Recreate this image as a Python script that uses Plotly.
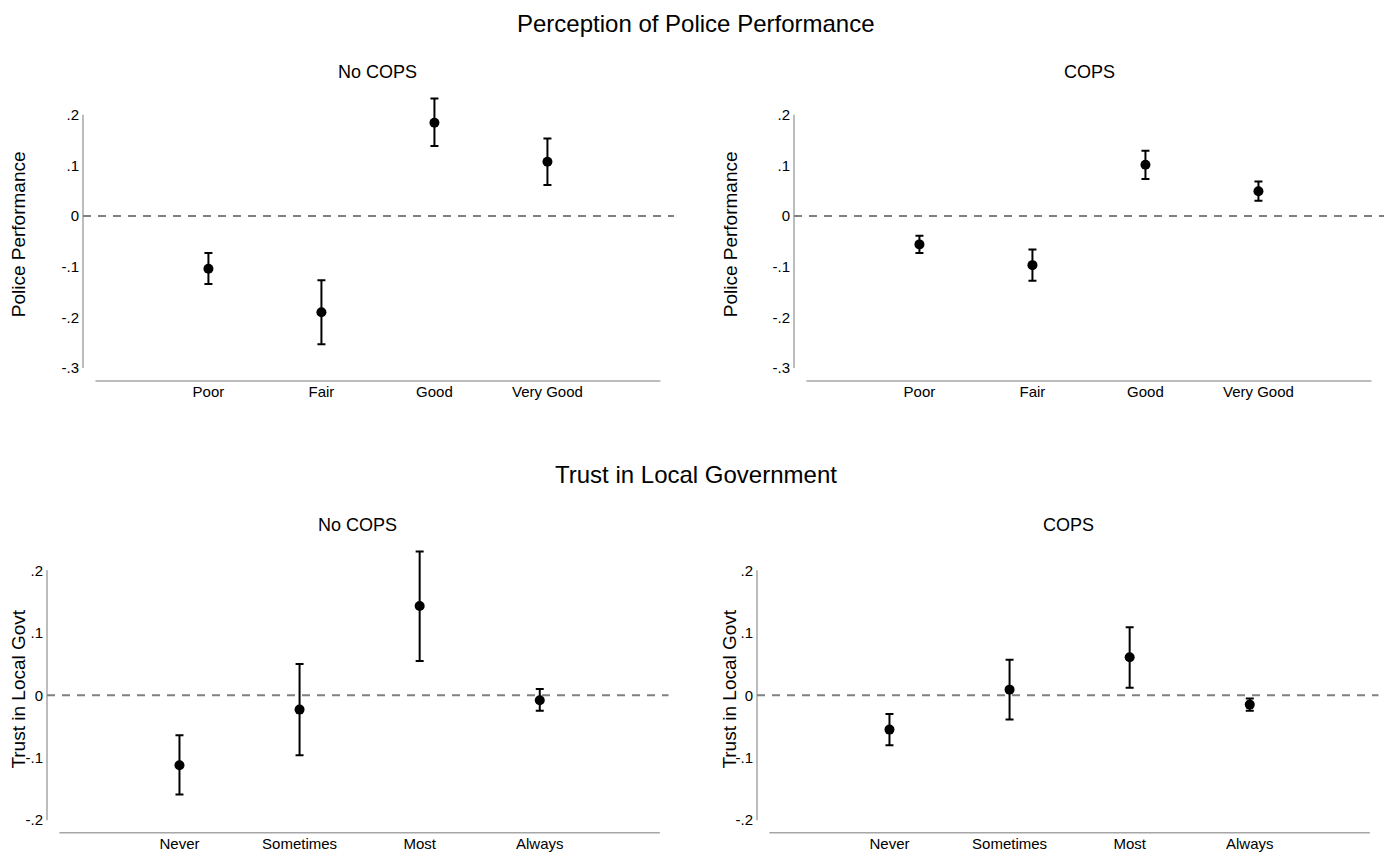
import plotly.graph_objects as go

# ---------------- data ----------------
perf_categories = ["Poor", "Fair", "Good", "Very Good"]
trust_categories = ["Never", "Sometimes", "Most", "Always"]

perf_nocops_est = [-0.104, -0.190, 0.184, 0.107]
perf_nocops_hi = [-0.073, -0.127, 0.232, 0.153]
perf_nocops_lo = [-0.134, -0.253, 0.138, 0.061]

perf_cops_est = [-0.056, -0.097, 0.101, 0.049]
perf_cops_hi = [-0.039, -0.066, 0.129, 0.068]
perf_cops_lo = [-0.073, -0.128, 0.073, 0.030]

trust_nocops_est = [-0.112, -0.023, 0.143, -0.008]
trust_nocops_hi = [-0.064, 0.050, 0.230, 0.010]
trust_nocops_lo = [-0.159, -0.096, 0.055, -0.025]

trust_cops_est = [-0.055, 0.009, 0.061, -0.015]
trust_cops_hi = [-0.030, 0.057, 0.109, -0.005]
trust_cops_lo = [-0.080, -0.039, 0.012, -0.025]

perf_ticks = [0.2, 0.1, 0.0, -0.1, -0.2, -0.3]
perf_ticktext = [".2", ".1", "0", "-.1", "-.2", "-.3"]
trust_ticks = [0.2, 0.1, 0.0, -0.1, -0.2]
trust_ticktext = [".2", ".1", "0", "-.1", "-.2"]

main_titles = ["Perception of Police Performance", "Trust in Local Government"]
panel_titles = ["No COPS", "COPS"]
ytitles = ["Police Performance", "Trust in Local Govt"]

# ---------------- layout geometry ----------------
# page body has an 8px margin; figure is sized to fit inside the window
OFF = 8
W, H = 1392 - 2 * OFF, 860 - 2 * OFF
FONT = "Liberation Sans, Arial, sans-serif"
AXIS_GREY = "#a6a6a6"


def px_x(p):
    return min(max((p - OFF) / W, 0.0), 1.0)


def px_y(p):
    return min(max(1 - (p - OFF) / H, 0.0), 1.0)


panels = [
    dict(cats=perf_categories, est=perf_nocops_est, hi=perf_nocops_hi, lo=perf_nocops_lo,
         xd=(83, 674), yd=(88, 382.7), xr=(-1.11, 4.12), yr=(-0.3255, 0.2534),
         tv=perf_ticks, tt=perf_ticktext, yline=(-0.3, 0.2), ytitle=ytitles[0],
         ytx=18, sub=panel_titles[0], suby=72, subx=378),
    dict(cats=perf_categories, est=perf_cops_est, hi=perf_cops_hi, lo=perf_cops_lo,
         xd=(794, 1384), yd=(88, 382.7), xr=(-1.11, 4.111), yr=(-0.3255, 0.2534),
         tv=perf_ticks, tt=perf_ticktext, yline=(-0.3, 0.2), ytitle=ytitles[0],
         ytx=730, sub=panel_titles[1], suby=72, subx=1089),
    dict(cats=trust_categories, est=trust_nocops_est, hi=trust_nocops_hi, lo=trust_nocops_lo,
         xd=(47, 668.5), yd=(548, 836.7), xr=(-1.103, 4.072), yr=(-0.2202, 0.2399),
         tv=trust_ticks, tt=trust_ticktext, yline=(-0.2, 0.2), ytitle=ytitles[1],
         ytx=18.5, sub=panel_titles[0], suby=527, subx=357.5),
    dict(cats=trust_categories, est=trust_cops_est, hi=trust_cops_hi, lo=trust_cops_lo,
         xd=(757, 1378.5), yd=(548, 836.7), xr=(-1.103, 4.072), yr=(-0.2202, 0.2399),
         tv=trust_ticks, tt=trust_ticktext, yline=(-0.2, 0.2), ytitle=ytitles[1],
         ytx=729.5, sub=panel_titles[1], suby=527, subx=1068),
]

fig = go.Figure()
shapes = []
annotations = []

for i, p in enumerate(panels, start=1):
    xa = "x" if i == 1 else f"x{i}"
    ya = "y" if i == 1 else f"y{i}"
    plus = [h - e for h, e in zip(p["hi"], p["est"])]
    minus = [e - l for e, l in zip(p["est"], p["lo"])]
    fig.add_trace(go.Scatter(
        x=p["cats"], y=p["est"], mode="markers",
        marker=dict(color="black", size=10, symbol="circle"),
        error_y=dict(type="data", symmetric=False, array=plus, arrayminus=minus,
                     color="black", thickness=2, width=4),
        xaxis=xa, yaxis=ya, showlegend=False,
    ))
    xkey = "xaxis" if i == 1 else f"xaxis{i}"
    ykey = "yaxis" if i == 1 else f"yaxis{i}"
    fig.update_layout(**{
        xkey: dict(domain=[px_x(p["xd"][0]), px_x(p["xd"][1])], range=list(p["xr"]),
                   anchor=ya, type="category", categoryorder="array", categoryarray=p["cats"],
                   showgrid=False, zeroline=False, showline=False, ticks="",
                   tickfont=dict(family=FONT, size=15, color="black"), ticklabelstandoff=0),
        ykey: dict(domain=[px_y(p["yd"][1]), px_y(p["yd"][0])], range=list(p["yr"]),
                   anchor=xa, showgrid=False, zeroline=False, showline=False, ticks="",
                   tickvals=p["tv"], ticktext=p["tt"],
                   tickfont=dict(family=FONT, size=15, color="black"), ticklabelstandoff=3),
    })
    # y axis line
    shapes.append(dict(type="line", xref=f"{xa} domain", yref=ya, x0=0, x1=0,
                       y0=p["yline"][0], y1=p["yline"][1],
                       line=dict(color=AXIS_GREY, width=1.5)))
    # x axis line (from k=0 to k=5 positions)
    shapes.append(dict(type="line", xref=xa, yref=f"{ya} domain", x0=-1, x1=4,
                       y0=0, y1=0, line=dict(color=AXIS_GREY, width=1.5)))
    # zero reference dashed line
    shapes.append(dict(type="line", xref=f"{xa} domain", yref=ya, x0=0, x1=1,
                       y0=0, y1=0, line=dict(color="#808080", width=1.8, dash="8px,7px")))
    # subplot title
    annotations.append(dict(text=p["sub"], xref="paper", yref="paper",
                            x=px_x(p["subx"]), y=px_y(p["suby"]),
                            xanchor="center", yanchor="middle", showarrow=False,
                            font=dict(family=FONT, size=18, color="black")))
    # y axis title
    annotations.append(dict(text=p["ytitle"], xref="paper", yref="paper",
                            x=px_x(p["ytx"]), y=px_y((p["yd"][0] + p["yd"][1]) / 2),
                            xanchor="center", yanchor="middle", textangle=-90, showarrow=False,
                            font=dict(family=FONT, size=19, color="black")))

# main titles
annotations.append(dict(text=main_titles[0], xref="paper", yref="paper", x=px_x(696), y=1.0,
                        xanchor="center", yanchor="top", showarrow=False,
                        font=dict(family=FONT, size=24, color="black")))
annotations.append(dict(text=main_titles[1], xref="paper", yref="paper", x=px_x(696), y=px_y(477),
                        xanchor="center", yanchor="middle", showarrow=False,
                        font=dict(family=FONT, size=24, color="black")))

fig.update_layout(
    width=W, height=H,
    margin=dict(l=0, r=0, t=0, b=0),
    paper_bgcolor="white", plot_bgcolor="white",
    shapes=shapes, annotations=annotations,
    showlegend=False,
)

fig.write_html("out.html", config={"displayModeBar": False})
